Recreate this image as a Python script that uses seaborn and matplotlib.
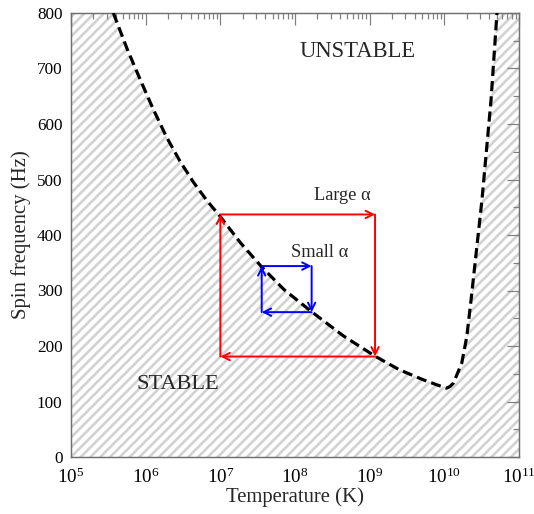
import numpy as np
import pandas as pd
import seaborn as sns
import matplotlib
matplotlib.use("Agg")
import matplotlib.pyplot as plt
from matplotlib.ticker import LogLocator, MultipleLocator, LogFormatterMathtext

# ---- data ----
temperature_K = [3.69e5, 5.62e5, 8.39e5, 1.26e6, 1.91e6, 2.88e6, 4.37e6, 6.61e6,
                 1.0e7, 1.86e7, 3.55e7, 7.08e7, 1.66e8, 4.47e8, 1.17e9, 2.51e9,
                 5.25e9, 7.59e9, 1.07e10, 1.19e10, 1.32e10, 1.71e10, 2.0e10,
                 2.28e10, 3.19e10, 4.22e10, 5.07e10]
spin_freq_Hz = [800, 736, 681, 627, 576, 533, 495, 462,
                433, 386, 343, 302, 262, 218, 182, 157,
                139, 131, 124, 127, 133, 169, 217,
                283, 463, 643, 800]

large_cycle_T = [1.0e7, 1.18e9]
large_cycle_f = [437, 181]
small_cycle_T = [3.58e7, 1.67e8]
small_cycle_f = [344, 261]

x_limits = [1e5, 1e11]
y_limits = [0, 800]

DPI = 88
sns.set_theme(style="white")
plt.rcParams["font.family"] = ["Liberation Serif", "DejaVu Serif"]
plt.rcParams["mathtext.fontset"] = "stix"
plt.rcParams["hatch.linewidth"] = 2.2

fig = plt.figure(figsize=(534 / DPI, 514 / DPI), dpi=DPI)
ax = fig.add_axes([71 / 534, (514 - 457) / 514, (519 - 71) / 534, (457 - 13) / 514])

df = pd.DataFrame({"T": temperature_K, "f": spin_freq_Hz})

# stable region hatch (below / right of the curve)
fill_T = [x_limits[0]] + temperature_K + [x_limits[1]]
fill_f = [y_limits[1]] + spin_freq_Hz + [y_limits[1]]
ax.fill_between(fill_T, y_limits[0], fill_f, facecolor="white",
                edgecolor="#d2d2d2", hatch="///", linewidth=0, zorder=0)

sns.lineplot(data=df, x="T", y="f", ax=ax, color="black", lw=2.6,
             sort=False, estimator=None, zorder=3)
ax.lines[-1].set_dashes([3.2, 1.6])

def cycle(Ts, fs, color):
    t1, t2 = Ts
    fhi, flo = fs
    segs = [((t1, fhi), (t2, fhi)), ((t2, fhi), (t2, flo)),
            ((t2, flo), (t1, flo)), ((t1, flo), (t1, fhi))]
    for a, b in segs:
        ax.annotate("", xy=b, xytext=a,
                    arrowprops=dict(arrowstyle="->", color=color, lw=1.6,
                                    mutation_scale=15, shrinkA=0, shrinkB=0),
                    zorder=4)

cycle(large_cycle_T, large_cycle_f, "red")
cycle(small_cycle_T, small_cycle_f, "blue")

ax.set_xscale("log")
ax.set_xlim(*x_limits)
ax.set_ylim(*y_limits)

ax.xaxis.set_major_locator(LogLocator(base=10, numticks=10))
ax.xaxis.set_minor_locator(LogLocator(base=10, subs=np.arange(2, 10), numticks=20))
ax.xaxis.set_major_formatter(LogFormatterMathtext())
ax.yaxis.set_major_locator(MultipleLocator(100))
ax.yaxis.set_minor_locator(MultipleLocator(50))

ax.tick_params(which="both", direction="in", top=True, right=True,
               color="#808080", labelsize=14, labelcolor="black")
ax.tick_params(which="major", length=9.5, width=1.0, pad=7)
ax.tick_params(axis="x", which="major", labelsize=15.5, pad=9)
ax.tick_params(which="minor", length=5, width=1.0)
for s in ax.spines.values():
    s.set_color("#707070")
    s.set_linewidth(1.2)

ax.set_xlabel("Temperature (K)", fontsize=17, labelpad=0)
ax.set_ylabel("Spin frequency (Hz)", fontsize=17, labelpad=5)

ax.text(6.8e8, 731, "UNSTABLE", fontsize=18.5, ha="center", va="center")
ax.text(2.7e6, 130, "STABLE", fontsize=18.3, ha="center", va="center")
ax.text(4.27e8, 472, "Large α", fontsize=15, ha="center", va="center")
ax.text(2.16e8, 369, "Small α", fontsize=15, ha="center", va="center")

fig.savefig("out.png", dpi=DPI)
